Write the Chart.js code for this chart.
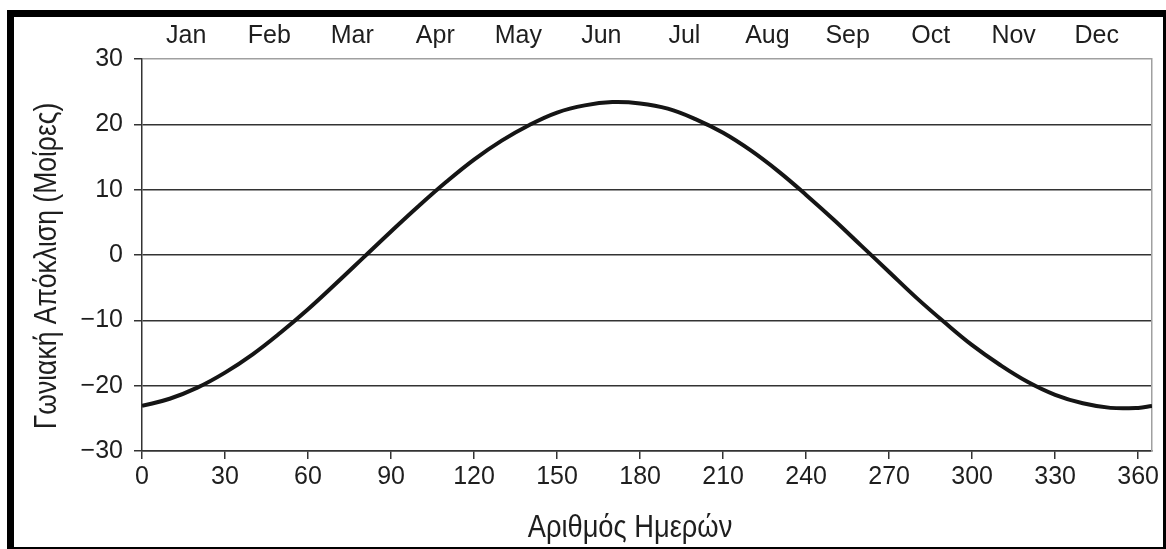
<!DOCTYPE html>
<html>
<head>
<meta charset="utf-8">
<script src="https://cdn.jsdelivr.net/npm/chart.js@4/dist/chart.umd.min.js"></script>
<style>
  html, body { margin: 0; padding: 0; background: #fff; }
  #wrap { position: relative; width: 1166px; height: 549px; }
  #c { position: absolute; left: 0; top: 0; }
  #frame { position: absolute; left: 7px; top: 10px; width: 1159px; height: 539px; box-sizing: border-box;
           border-left: 7px solid #000; border-top: 7px solid #000; border-right: 3px solid #000; border-bottom: 2px solid #000;
           pointer-events: none; }
</style>
</head>
<body>
<div id="wrap">
  <canvas id="c" width="1166" height="549"></canvas>
  <div id="frame"></div>
</div>
<script>
// ---- data ----
const dayNumbers = [0, 10, 20, 30, 40, 50, 60, 70, 80, 90, 100, 110, 120, 130, 140, 150, 160, 170, 180, 190, 200, 210, 220, 230, 240, 250, 260, 270, 280, 290, 300, 310, 320, 330, 340, 350, 360, 365];
const declination = [-23.1, -22.0, -20.3, -18.0, -15.2, -11.9, -8.3, -4.4, -0.4, 3.6, 7.5, 11.2, 14.6, 17.5, 19.9, 21.8, 22.9, 23.4, 23.2, 22.4, 20.8, 18.7, 16.0, 12.8, 9.2, 5.4, 1.4, -2.6, -6.6, -10.3, -13.8, -16.8, -19.4, -21.4, -22.7, -23.4, -23.4, -23.1];
const xTickValues = [0, 30, 60, 90, 120, 150, 180, 210, 240, 270, 300, 330, 360];
const monthNames = ['Jan', 'Feb', 'Mar', 'Apr', 'May', 'Jun', 'Jul', 'Aug', 'Sep', 'Oct', 'Nov', 'Dec'];
const monthDays = [16, 46, 76, 106, 136, 166, 196, 226, 255, 285, 315, 345];
const xTitle = 'Αριθμός Ημερών';
const yTitle = 'Γωνιακή Απόκλιση (Μοίρες)';

const points = dayNumbers.map((d, i) => ({ x: d, y: declination[i] }));
const tickFont = { family: '"Liberation Sans", Arial, sans-serif', size: 25 };
const textColor = '#1e1e1e';
const gridColor = '#333';

const titlePlugin = {
  id: 'axisTitles',
  afterDraw(chart) {
    const ctx = chart.ctx;
    ctx.save();
    ctx.fillStyle = textColor;
    ctx.font = '31px "Liberation Sans Narrow", "Liberation Sans", Arial, sans-serif';
    ctx.textAlign = 'center';
    ctx.textBaseline = 'alphabetic';
    ctx.save();
    ctx.translate(630, 537);
    ctx.scale(0.88, 1);
    ctx.fillText(xTitle, 0, 0);
    ctx.restore();
    ctx.translate(56, 266);
    ctx.rotate(-Math.PI / 2);
    ctx.scale(0.855, 1);
    ctx.fillText(yTitle, 0, 0);
    ctx.restore();
  }
};

new Chart(document.getElementById('c'), {
  type: 'line',
  data: {
    datasets: [{
      data: points,
      borderColor: '#151515',
      borderWidth: 4,
      pointRadius: 0,
      fill: false,
      tension: 0.4
    }]
  },
  options: {
    responsive: false,
    animation: false,
    events: [],
    layout: { padding: { left: 0, right: 14, top: 0, bottom: 0 } },
    plugins: { legend: { display: false }, tooltip: { enabled: false } },
    scales: {
      x: {
        type: 'linear', position: 'bottom', min: 0, max: 365,
        afterBuildTicks: s => { s.ticks = xTickValues.map(v => ({ value: v })); },
        afterFit: s => { s.height = 98; },
        ticks: { font: tickFont, color: textColor, padding: 3, maxRotation: 0, autoSkip: false },
        grid: { drawOnChartArea: false, drawTicks: true, tickLength: 8, color: gridColor, lineWidth: 1.5 },
        border: { display: true, color: gridColor, width: 1.5 }
      },
      xTop: {
        type: 'linear', position: 'top', axis: 'x', min: 0, max: 365,
        afterBuildTicks: s => { s.ticks = monthDays.map(v => ({ value: v })); },
        afterFit: s => { s.height = 59; },
        ticks: { font: tickFont, color: textColor, padding: 8, maxRotation: 0, autoSkip: false,
                 callback: (v, i) => monthNames[i] },
        grid: { display: false, drawTicks: false },
        border: { display: false }
      },
      y: {
        type: 'linear', position: 'left', min: -30, max: 30,
        afterFit: s => { s.width = 142; },
        ticks: { stepSize: 10, font: tickFont, color: textColor, padding: 11,
                 callback: v => String(v).replace('-', '\u2212') },
        grid: {
          color: ctx => (ctx.tick && ctx.tick.value === 30) ? '#a0a0a0' : gridColor,
          tickColor: gridColor, lineWidth: 1.5, drawTicks: true, tickLength: 8
        },
        border: { display: true, color: gridColor, width: 1.5 }
      },
      yRight: {
        type: 'linear', position: 'right', axis: 'y', min: -30, max: 30,
        afterFit: s => { s.width = 0; },
        ticks: { display: false },
        grid: { display: false, drawTicks: false },
        border: { display: true, color: '#a0a0a0', width: 1.5 }
      }
    }
  },
  plugins: [titlePlugin]
});
</script>
</body>
</html>
